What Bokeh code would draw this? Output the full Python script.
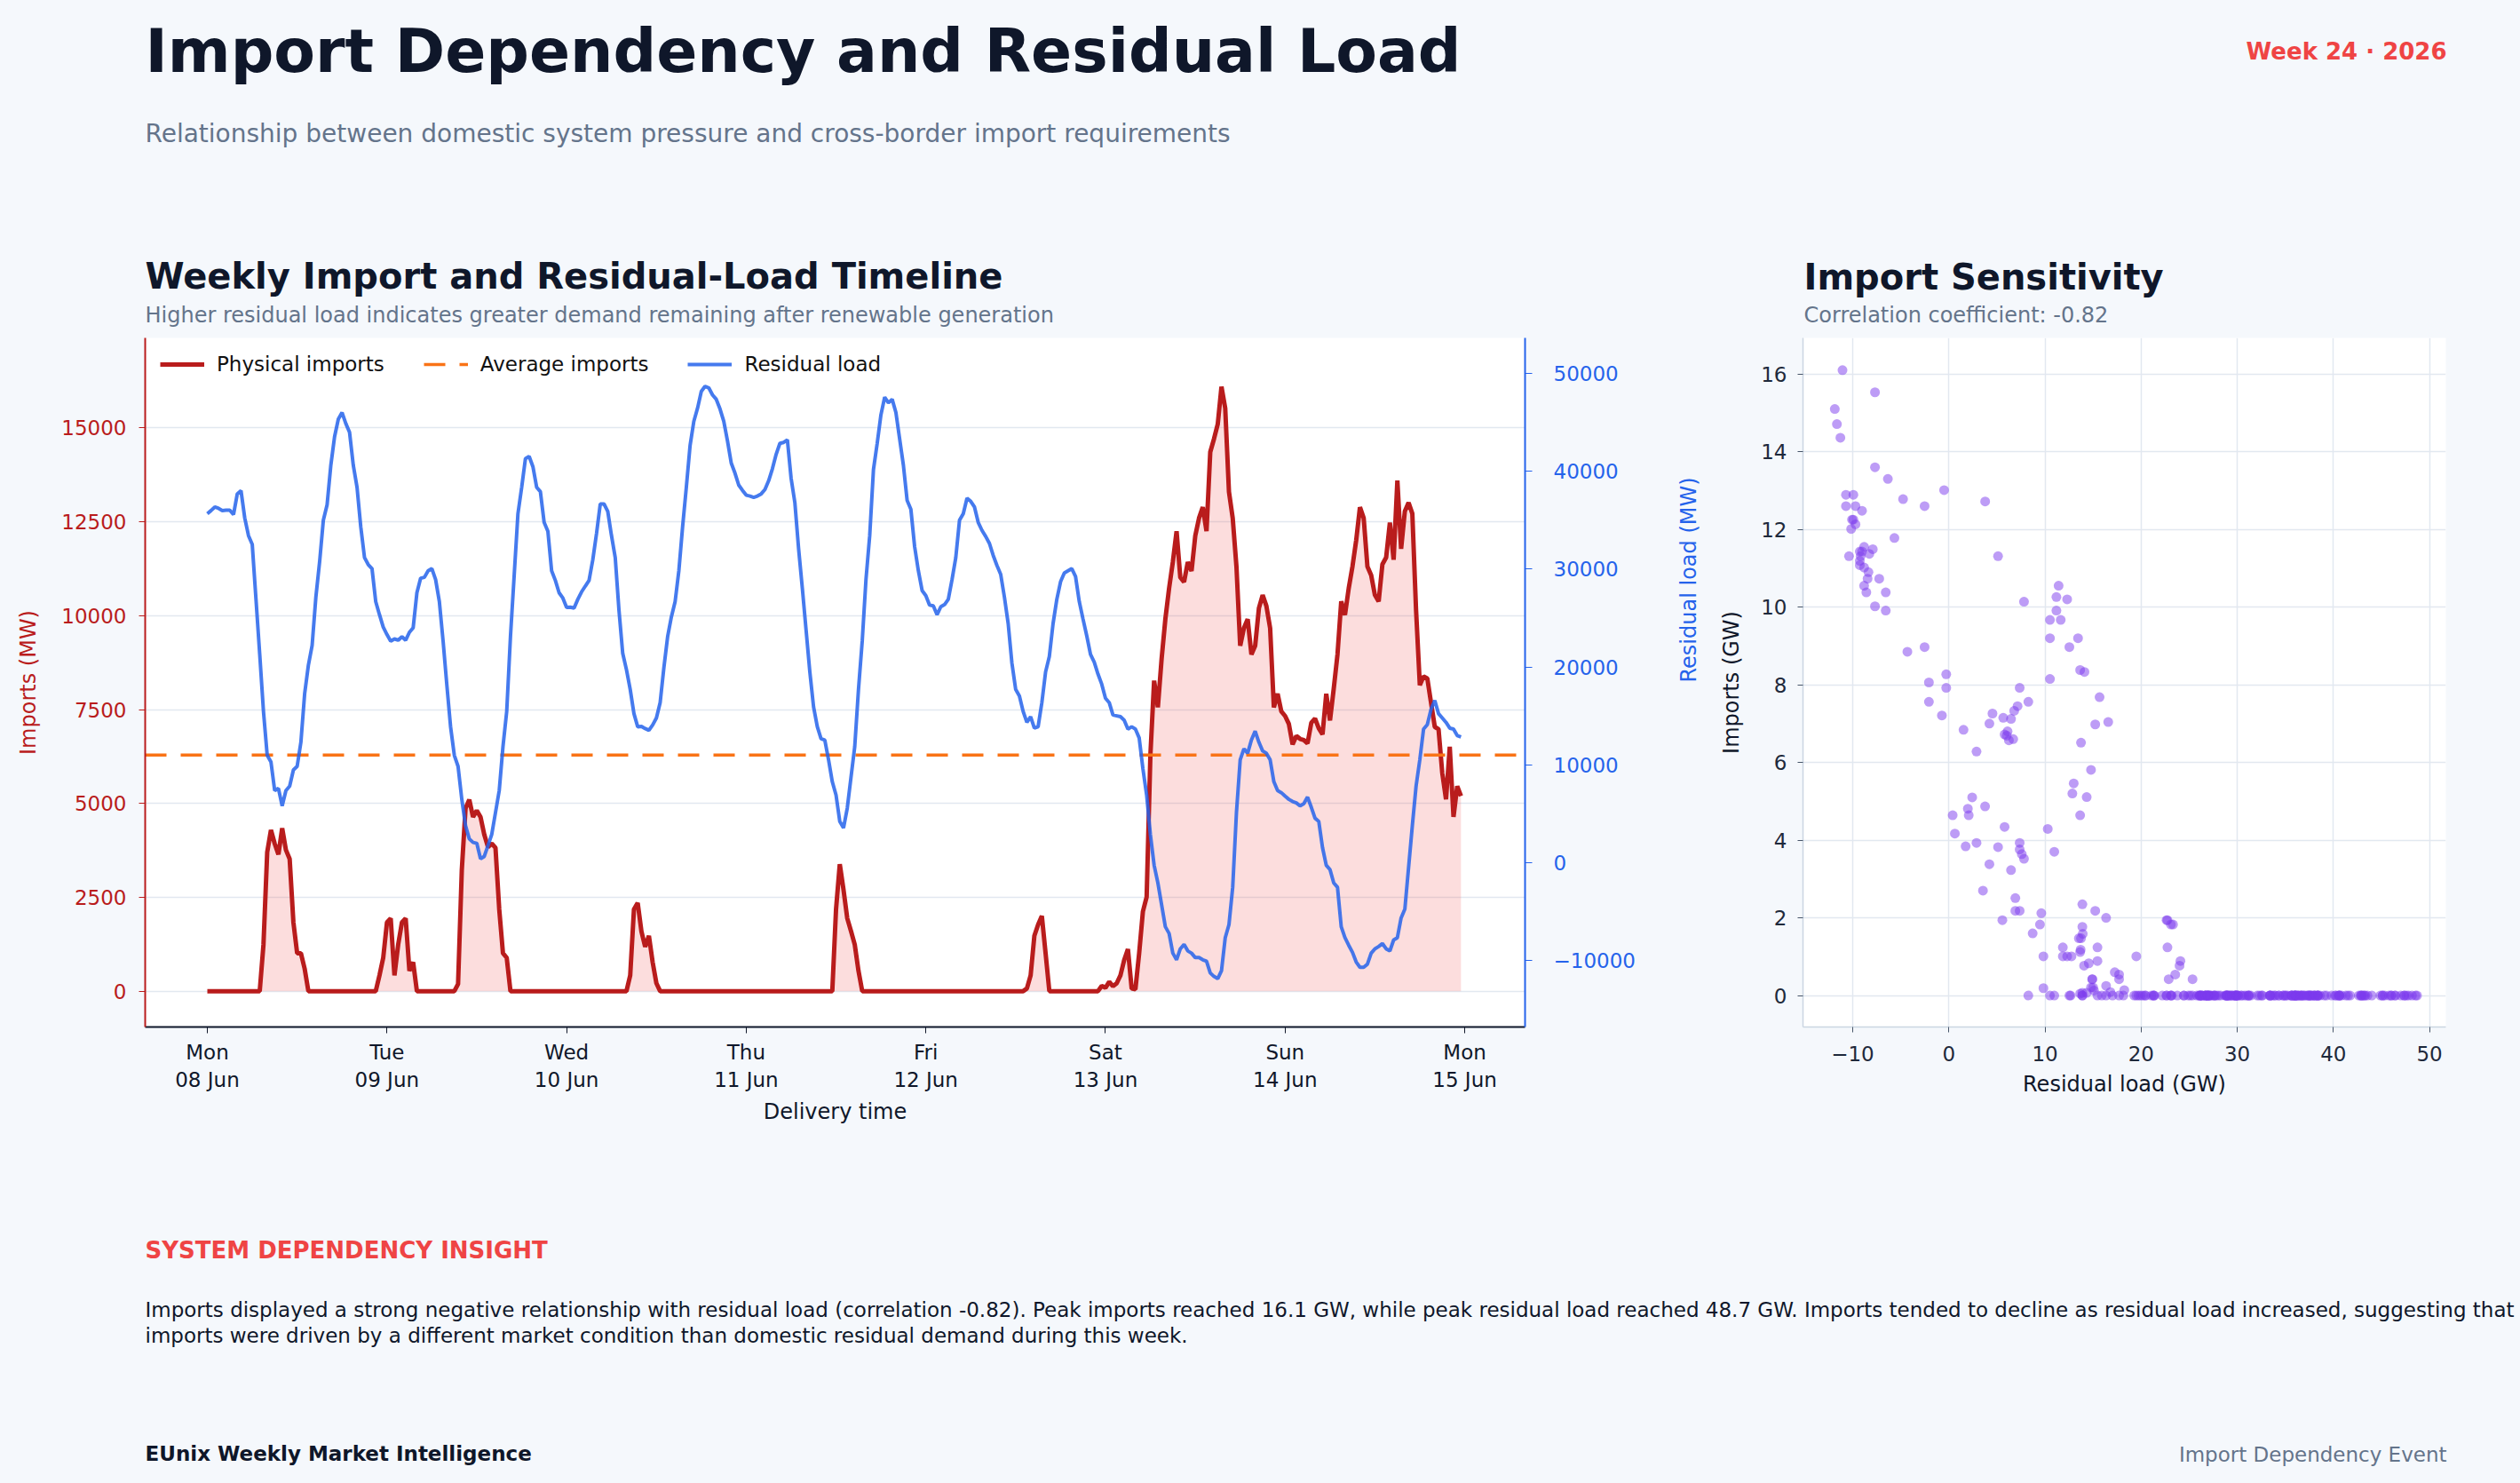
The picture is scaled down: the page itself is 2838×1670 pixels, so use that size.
import math
from bokeh.plotting import figure
from bokeh.models import Range1d, LinearAxis, Legend, LegendItem, FixedTicker
from bokeh.layouts import column, row
from bokeh.embed import file_html
from bokeh.resources import INLINE
from bokeh.core.properties import value

BG = "#f5f8fc"
FONT = "DejaVu Sans"
NAVY = "#0f172a"
GRAY = "#64748b"

# ---------------- data (half-hourly) ----------------
imports_mw = [
    # Mon 08 Jun
    0, 0, 0, 0, 0, 0, 0, 0, 0, 0, 0, 0, 0, 0, 0, 1240, 3700, 4290, 3930, 3640, 4340, 3760, 3520, 1830,
    1010, 1010, 600, 0, 0, 0, 0, 0, 0, 0, 0, 0, 0, 0, 0, 0, 0, 0, 0, 0, 0, 0, 420, 890,
    # Tue 09 Jun
    1830, 1940, 420, 1240, 1830, 1940, 540, 770, 0, 0, 0, 0, 0, 0, 0, 0, 0, 0, 0, 190, 3230, 4870, 5100, 4640,
    4810, 4640, 4170, 3840, 3930, 3820, 2180, 1010, 890, 0, 0, 0, 0, 0, 0, 0, 0, 0, 0, 0, 0, 0, 0, 0,
    # Wed 10 Jun
    0, 0, 0, 0, 0, 0, 0, 0, 0, 0, 0, 0, 0, 0, 0, 0, 0, 420, 2180, 2350, 1590, 1180, 1475, 770,
    210, 0, 0, 0, 0, 0, 0, 0, 0, 0, 0, 0, 0, 0, 0, 0, 0, 0, 0, 0, 0, 0, 0, 0,
    # Thu 11 Jun
    0, 0, 0, 0, 0, 0, 0, 0, 0, 0, 0, 0, 0, 0, 0, 0, 0, 0, 0, 0, 0, 0, 0, 0,
    2180, 3380, 2700, 1940, 1600, 1240, 540, 0, 0, 0, 0, 0, 0, 0, 0, 0, 0, 0, 0, 0, 0, 0, 0, 0,
    # Fri 12 Jun
    0, 0, 0, 0, 0, 0, 0, 0, 0, 0, 0, 0, 0, 0, 0, 0, 0, 0, 0, 0, 0, 0, 0, 0,
    0, 0, 0, 70, 420, 1475, 1770, 2000, 1010, 0, 0, 0, 0, 0, 0, 0, 0, 0, 0, 0, 0, 0, 0, 140,
    # Sat 13 Jun
    90, 250, 130, 210, 420, 830, 1120, 70, 50, 1010, 2120, 2510, 6280, 8270, 7560, 8850, 9910, 10730, 11430, 12250, 11020, 10900, 11430, 11190,
    12130, 12600, 12890, 12250, 14360, 14710, 15100, 16100, 15530, 13300, 12600, 11310, 9200, 9670, 9910, 8970, 9200, 10200, 10550, 10260, 9670, 7560, 7920, 7450,
    # Sun 14 Jun
    7330, 7120, 6570, 6800, 6720, 6690, 6600, 7150, 7260, 7000, 6840, 7920, 7210, 8060, 8970, 10380, 10020, 10730, 11310, 12010, 12890, 12600, 11310, 11080,
    10550, 10380, 11370, 11550, 12480, 11490, 13600, 11780, 12780, 13010, 12720, 10140, 8150, 8380, 8330, 7680, 7040, 6980, 5810, 5110, 6510, 4640, 5460, 5200,
]

residual_mw = [
    # Mon 08 Jun
    35680, 36000, 36360, 36220, 36000, 36040, 36040, 35590, 37700, 38020, 35230, 33430, 32540, 26920, 21300, 15460, 10970, 10290, 7370, 7590, 5800, 7370, 7820, 9480,
    9840, 12310, 17260, 20180, 22200, 27140, 30740, 35010, 36580, 40630, 43550, 45340, 46020, 44900, 44000, 40630, 38380, 34330, 31190, 30470, 30060, 26690, 25350, 24090,
    # Tue 09 Jun
    23320, 22650, 22870, 22740, 23100, 22740, 23550, 24000, 27590, 29080, 29170, 29840, 30060, 28940, 26690, 22650, 18160, 13890, 10970, 9840, 6470, 3770, 2430, 2070,
    1980, 400, 630, 1750, 2880, 5120, 7370, 11860, 15460, 23100, 29390, 35680, 38380, 41300, 41530, 40490, 38380, 37930, 34780, 33880, 29840, 28850, 27590, 27050,
    # Wed 10 Jun
    26100, 26110, 26020, 26920, 27680, 28270, 28850, 30960, 33660, 36670, 36670, 35910, 33430, 31190, 25800, 21390, 19730, 17710, 15230, 13890, 13930, 13710, 13530, 14070,
    14790, 16360, 19950, 23100, 25120, 26690, 29840, 34330, 38380, 42650, 45120, 46470, 48180, 48700, 48540, 47820, 47370, 46380, 45120, 43100, 40850, 39820, 38600, 38060,
    # Thu 11 Jun
    37570, 37480, 37350, 37480, 37700, 38150, 39050, 40270, 41750, 42870, 42960, 43230, 39280, 36810, 32090, 28040, 23770, 19500, 15910, 13890, 12670, 12540, 10520, 8270,
    6920, 4220, 3550, 5570, 8720, 11860, 17710, 22650, 28940, 33430, 40180, 42870, 45790, 47590, 47010, 47370, 46020, 43320, 40630, 37030, 36130, 32310, 29840, 27820,
    # Fri 12 Jun
    27300, 26330, 26250, 25350, 26160, 26380, 26920, 28940, 31190, 35010, 35680, 37260, 36940, 36360, 34780, 33970, 33350, 32630, 31410, 30380, 29480, 27140, 24450, 20400,
    17710, 17030, 15460, 14340, 14920, 13750, 13890, 16360, 19500, 21080, 24450, 26920, 28720, 29620, 29840, 30060, 29260, 26690, 24900, 23190, 21300, 20490, 19280, 18250,
    # Sat 13 Jun
    16810, 16360, 15100, 15010, 14920, 14560, 13660, 13890, 13660, 12760, 9620, 6920, 2880, -270, -2070, -4310, -6560, -7240, -9260, -9930, -8810, -8360, -9030, -9260,
    -9710, -9710, -9930, -10070, -11280, -11640, -11860, -11060, -7680, -6340, -2520, 5120, 10520, 11640, 11190, 12540, 13440, 12310, 11420, 11190, 10520, 8270, 7370, 7150,
    # Sun 14 Jun
    6800, 6470, 6250, 6110, 5800, 6020, 6700, 5660, 4540, 4220, 1530, -270, -720, -2070, -2520, -6560, -7680, -8450, -9170, -10160, -10700, -10700, -10380, -9260,
    -8810, -8580, -8270, -8810, -9030, -7910, -7680, -5660, -4760, -490, 3780, 7820, 10520, 13660, 14110, 15680, 16580, 15230, 14790, 14340, 13750, 13660, 12990, 12850,
]

hours = [i * 0.5 for i in range(len(imports_mw))]   # hours since Mon 08 Jun 00:00

avg_imports_mw = 6290

day_ticks = [0, 24, 48, 72, 96, 120, 144, 168]
day_labels = ["Mon\n08 Jun", "Tue\n09 Jun", "Wed\n10 Jun", "Thu\n11 Jun",
              "Fri\n12 Jun", "Sat\n13 Jun", "Sun\n14 Jun", "Mon\n15 Jun"]
import_ticks = [0, 2500, 5000, 7500, 10000, 12500, 15000]
residual_ticks = [-10000, 0, 10000, 20000, 30000, 40000, 50000]
scatter_x_ticks = [-10, 0, 10, 20, 30, 40, 50]
scatter_y_ticks = [0, 2, 4, 6, 8, 10, 12, 14, 16]

title_text = "Import Dependency and Residual Load"
subtitle_text = "Relationship between domestic system pressure and cross-border import requirements"
week_text = "Week 24 \u00b7 2026"
timeline_title = "Weekly Import and Residual-Load Timeline"
timeline_sub = "Higher residual load indicates greater demand remaining after renewable generation"
scatter_title = "Import Sensitivity"
scatter_sub = "Correlation coefficient: -0.82"
insight_head = "SYSTEM DEPENDENCY INSIGHT"
insight_lines = [
    "Imports displayed a strong negative relationship with residual load (correlation -0.82). Peak imports reached 16.1 GW, while peak residual load reached 48.7 GW. Imports tended to decline as residual load increased, suggesting that",
    "imports were driven by a different market condition than domestic residual demand during this week.",
]
footer_left = "EUnix Weekly Market Intelligence"
footer_right = "Import Dependency Event"

# ---------------- helpers ----------------
PAGE_W = 2838


def text_panel(y0, height):
    p = figure(width=PAGE_W, height=height, x_range=Range1d(0, PAGE_W),
               y_range=Range1d(y0 + height, y0), x_axis_type=None, y_axis_type=None,
               output_backend="svg", toolbar_location=None, min_border=0,
               outline_line_color=None, background_fill_color=BG, border_fill_color=BG)
    return p


def put(p, x, y, txt, size, color, bold=False, align="left"):
    p.text(x=[x], y=[y], text=[txt], text_font=value(FONT), text_font_size=size,
           text_font_style="bold" if bold else "normal", text_color=color,
           text_align=align, text_baseline="alphabetic")


def style_axis(ax, color, label_color, size="23px"):
    ax.major_label_text_font = FONT
    ax.major_label_text_font_size = size
    ax.major_label_text_color = label_color
    ax.axis_label_text_font = FONT
    ax.axis_label_text_font_style = "normal"
    ax.axis_label_text_font_size = "24px"
    ax.axis_label_text_color = label_color
    ax.axis_line_color = color
    ax.major_tick_line_color = color
    ax.major_tick_in = 0
    ax.minor_tick_line_color = None


# ---------------- header ----------------
head = text_panel(0, 380)
put(head, 163, 57, title_text, "68px", NAVY, bold=True)
put(head, 163, 150, subtitle_text, "28px", GRAY)
put(head, 2755, 57, week_text, "26px", "#ef4444", bold=True, align="right")
put(head, 163, 310, timeline_title, "40px", NAVY, bold=True)
put(head, 163, 354, timeline_sub, "24px", GRAY)
put(head, 2031, 311, scatter_title, "40px", NAVY, bold=True)
put(head, 2031, 354, scatter_sub, "24px", GRAY)

# ---------------- timeline ----------------
X0, X1 = -8.305, 176.06
tl = figure(frame_width=1554, frame_height=776, x_range=Range1d(X0, X1),
            y_range=Range1d(-955, 17400), min_border_left=163, min_border_right=216,
            min_border_top=0, min_border_bottom=134, output_backend="svg",
            toolbar_location=None, background_fill_color="white",
            border_fill_color=BG, outline_line_color=None)
tl.extra_y_ranges = {"res": Range1d(-16807, 53650)}

tl.varea(x=hours, y1=[0] * len(hours), y2=imports_mw, fill_color="#ef4444", fill_alpha=0.18)
r_imp = tl.line(hours, imports_mw, line_color="#b91c1c", line_width=5.0)
r_avg = tl.line([X0, X1], [avg_imports_mw, avg_imports_mw], line_color="#f97316",
                line_width=3.5, line_dash="24 16")
r_res = tl.line(hours, residual_mw, y_range_name="res", line_color="#2563eb",
                line_alpha=0.85, line_width=4.0)

legend = Legend(items=[LegendItem(label="Physical imports", renderers=[r_imp]),
                       LegendItem(label="Average imports", renderers=[r_avg]),
                       LegendItem(label="Residual load", renderers=[r_res])],
                location="top_left", orientation="horizontal", margin=17, padding=10,
                spacing=44, label_standoff=14, glyph_width=50, glyph_height=20,
                label_text_font=FONT, label_text_font_size="23px", label_text_color="#111111",
                border_line_color=None, background_fill_alpha=0)
tl.add_layout(legend)

xa = tl.xaxis[0]
xa.ticker = FixedTicker(ticks=day_ticks)
xa.major_label_overrides = {t: l for t, l in zip(day_ticks, day_labels)}
style_axis(xa, NAVY, NAVY)
xa.axis_line_width = 2
xa.major_tick_out = 7
xa.major_label_standoff = 8
xa.axis_label = "Delivery time"
xa.axis_label_standoff = 6

ya = tl.yaxis[0]
ya.ticker = FixedTicker(ticks=import_ticks)
style_axis(ya, "#b91c1c", "#b91c1c")
ya.axis_line_width = 2
ya.major_tick_out = 7
ya.major_label_standoff = 14
ya.axis_label = "Imports (MW)"
ya.axis_label_standoff = 20

ra = LinearAxis(y_range_name="res", ticker=FixedTicker(ticks=residual_ticks),
                major_label_overrides={-10000: "\u221210000"})
style_axis(ra, "#2563eb", "#2563eb")
ra.axis_line_width = 2
ra.major_tick_out = 8
ra.major_label_standoff = 24
ra.axis_label = "Residual load (MW)"
ra.axis_label_standoff = 57
ra.axis_label_orientation = math.pi / 2
tl.add_layout(ra, "right")

tl.xgrid.visible = False
tl.ygrid.ticker = FixedTicker(ticks=import_ticks)
tl.ygrid.grid_line_color = "#e2e8f0"
tl.ygrid.grid_line_width = 1.5

# ---------------- scatter ----------------
sx = [r / 1000 for r in residual_mw]
sy = [i / 1000 for i in imports_mw]
sc = figure(frame_width=724, frame_height=776, x_range=Range1d(-15.17, 51.7),
            y_range=Range1d(-0.81, 16.93), min_border_left=97, min_border_right=84,
            min_border_top=0, min_border_bottom=134, output_backend="svg",
            toolbar_location=None, background_fill_color="white",
            border_fill_color=BG, outline_line_color=None)
sc.scatter(sx, sy, size=11, fill_color="#7c3aed", fill_alpha=0.5, line_color=None)

sxa = sc.xaxis[0]
sxa.ticker = FixedTicker(ticks=scatter_x_ticks)
sxa.major_label_overrides = {-10: "\u221210"}
style_axis(sxa, "#cbd5e1", "#1e293b")
sxa.major_tick_line_color = "#475569"
sxa.axis_line_width = 1.5
sxa.major_tick_out = 6
sxa.major_label_standoff = 15
sxa.axis_label = "Residual load (GW)"
sxa.axis_label_text_color = NAVY
sxa.axis_label_standoff = 9

sya = sc.yaxis[0]
sya.ticker = FixedTicker(ticks=scatter_y_ticks)
style_axis(sya, "#cbd5e1", "#1e293b")
sya.major_tick_line_color = "#475569"
sya.axis_line_width = 1.5
sya.major_tick_out = 6
sya.major_label_standoff = 12
sya.axis_label = "Imports (GW)"
sya.axis_label_text_color = NAVY
sya.axis_label_standoff = 16

sc.xgrid.ticker = FixedTicker(ticks=scatter_x_ticks)
sc.ygrid.ticker = FixedTicker(ticks=scatter_y_ticks)
for g in (sc.xgrid, sc.ygrid):
    g.grid_line_color = "#e2e8f0"
    g.grid_line_width = 1.5

# ---------------- footer ----------------
foot = text_panel(1290, 380)
put(foot, 163, 1407, insight_head, "26px", "#ef4444", bold=True)
foot.text(x=[163, 163], y=[1474, 1503], text=insight_lines, text_font=value(FONT),
          text_font_size="23px", text_color=NAVY, text_baseline="alphabetic")
put(foot, 163, 1636, footer_left, "23px", NAVY, bold=True)
put(foot, 2755, 1637, footer_right, "23px", GRAY, align="right")

page = column(head, row(tl, sc), foot, spacing=0)
page.background = BG

html = file_html(page, INLINE, title="Import Dependency and Residual Load")
css = "<style>html,body{margin:0 !important;padding:0 !important;background:%s !important;overflow:hidden;}</style></head>" % BG
html = html.replace("</head>", css, 1)
open("out.html", "w").write(html)
